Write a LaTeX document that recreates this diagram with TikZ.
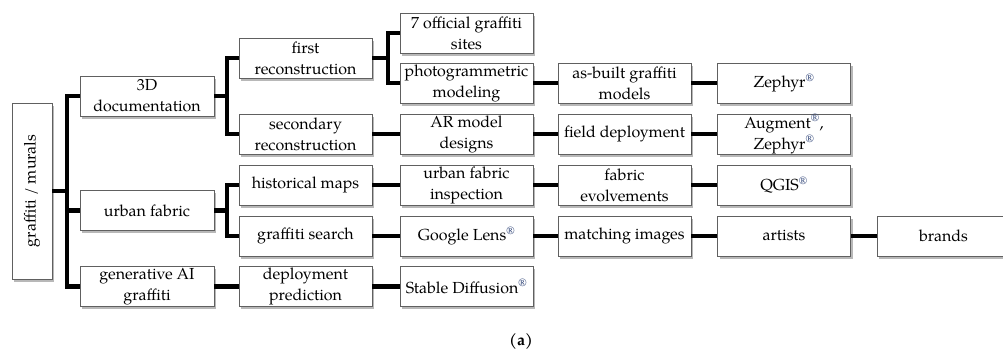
\documentclass[tikz,border=0pt]{standalone}
\usepackage{fontspec}
\setmainfont{TeX Gyre Pagella}
\usetikzlibrary{shadows}
\definecolor{regc}{RGB}{55,75,125}
\newcommand{\regm}{\textsuperscript{\textcolor{regc}{\textregistered}}}
\begin{document}
\begin{tikzpicture}[x=1pt,y=-1pt,
  box/.style={draw=gray!75!black, line width=0.8pt, fill=white,
    minimum height=40pt, minimum width=133pt, inner sep=0pt, align=center,
    font=\fontsize{16}{21}\selectfont,
    drop shadow={shadow xshift=2pt, shadow yshift=-2.5pt, fill=black, opacity=0.28}},
  conn/.style={line width=4.5pt, black},
  lbl/.style={font=\fontsize{16}{21}\selectfont}]
\useasboundingbox (0,0) rectangle (1003,356);

% root
\node[box, minimum width=40pt, minimum height=176pt] (root) at (32,191) {};
\node[lbl, rotate=90] (roottxt) at (root.center) {graffiti / murals};

% level 1
\node[box, minimum width=134pt] (doc) at (147,96) {3D\\documentation};
\node[box, minimum width=134pt] (urban) at (147,210.5) {urban fabric};
\node[box, minimum width=134pt] (genai) at (147,286.5) {generative AI\\graffiti};

% level 2
\node[box] (first) at (305.5,58) {first\\reconstruction};
\node[box] (second) at (305.5,134) {secondary\\reconstruction};
\node[box] (hist) at (305.5,185) {historical maps};
\node[box] (gsearch) at (305.5,236) {graffiti search};
\node[box] (dpred) at (305.5,286.5) {deployment\\prediction};

% level 3
\node[box] (seven) at (466.5,33) {7 official graffiti\\sites};
\node[box] (photo) at (466.5,83) {photogrammetric\\modeling};
\node[box] (ar) at (466.5,134) {AR model\\designs};
\node[box] (ufi) at (466.5,185) {urban fabric\\inspection};
\node[box] (glens) at (466.5,236) {Google Lens\regm};
\node[box] (stable) at (466.5,286.5) {Stable Diffusion\regm};

% level 4
\node[box] (asbuilt) at (624.5,83) {as-built graffiti\\models};
\node[box] (field) at (624.5,134) {field deployment};
\node[box] (fabev) at (624.5,185) {fabric\\evolvements};
\node[box] (match) at (624.5,236) {matching images};

% level 5
\node[box] (zephyr) at (784,83) {Zephyr\regm};
\node[box] (augment) at (784,134) {Augment\regm,\\Zephyr\regm};
\node[box] (qgis) at (784,185) {QGIS\regm};
\node[box] (artists) at (784,236) {artists};

% level 6
\node[box] (brands) at (943.5,236) {brands};

% caption
\node[font=\fontsize{16}{21}\selectfont\bfseries] (cap) at (521,341) {(a)};

% branch points
\coordinate (t0) at (67,191);
\coordinate (t1) at (227,96);
\coordinate (t2) at (227,210.5);
\coordinate (t3) at (388,58);

% connectors
\draw[conn] (root.east) -- (t0);
\draw[conn] (doc.west) -- (doc.west -| t0) -- (genai.west -| t0) -- (genai.west);
\draw[conn] (urban.west) -- (urban.west -| t0);

\draw[conn] (doc.east) -- (t1);
\draw[conn] (first.west) -- (first.west -| t1) -- (second.west -| t1) -- (second.west);
\draw[conn] (urban.east) -- (t2);
\draw[conn] (hist.west) -- (hist.west -| t2) -- (gsearch.west -| t2) -- (gsearch.west);
\draw[conn] (genai.east) -- (dpred.west);

\draw[conn] (first.east) -- (t3);
\draw[conn] (seven.west) -- (seven.west -| t3) -- (photo.west -| t3) -- (photo.west);
\draw[conn] (second.east) -- (ar.west);
\draw[conn] (hist.east) -- (ufi.west);
\draw[conn] (gsearch.east) -- (glens.west);
\draw[conn] (dpred.east) -- (stable.west);

\draw[conn] (photo.east) -- (asbuilt.west);
\draw[conn] (ar.east) -- (field.west);
\draw[conn] (ufi.east) -- (fabev.west);
\draw[conn] (glens.east) -- (match.west);

\draw[conn] (asbuilt.east) -- (zephyr.west);
\draw[conn] (field.east) -- (augment.west);
\draw[conn] (fabev.east) -- (qgis.west);
\draw[conn] (match.east) -- (artists.west);
\draw[conn] (artists.east) -- (brands.west);
\end{tikzpicture}
\end{document}
